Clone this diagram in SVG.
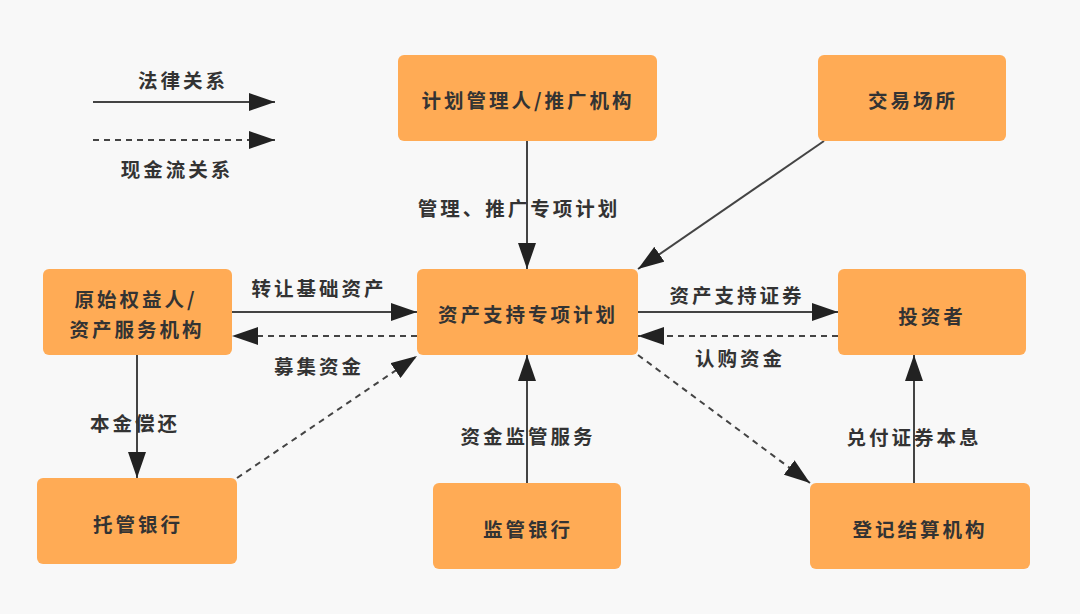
<svg xmlns="http://www.w3.org/2000/svg" width="1080" height="614" viewBox="0 0 1080 614">
<defs>
<style>
.box{fill:#FFAB55;}
.t{font-family:"Noto Sans CJK SC","Noto Sans CJK JP",sans-serif;font-size:19.5px;font-weight:bold;fill:#333;letter-spacing:3px;text-anchor:middle;dominant-baseline:central;}
.l{stroke:#444;stroke-width:2;fill:none;marker-end:url(#ah);}
.d{stroke-dasharray:6,5;}
</style>
<marker id="ah" markerUnits="userSpaceOnUse" markerWidth="28" markerHeight="18" refX="26" refY="9" orient="auto">
<path d="M0,0 L26,9 L0,18 Z" fill="#222"/>
</marker>
</defs>
<rect width="1080" height="614" fill="#F8F8F8"/>
<g id="legend">
<text class="t" x="183" y="79">法律关系</text>
<line class="l" x1="93" y1="102" x2="275" y2="102"/>
<line class="l d" x1="93" y1="140" x2="275" y2="140"/>
<text class="t" x="177" y="168">现金流关系</text>
</g>
<g id="connectors">
<line class="l" x1="527" y1="141" x2="527" y2="269"/>
<text class="t" x="519" y="207">管理、推广专项计划</text>
<line class="l" x1="824" y1="141" x2="638" y2="269"/>
<line class="l" x1="232" y1="312" x2="417" y2="312"/>
<text class="t" x="319" y="287">转让基础资产</text>
<line class="l d" x1="417" y1="336" x2="232" y2="336"/>
<text class="t" x="319" y="365">募集资金</text>
<line class="l" x1="638" y1="312" x2="838" y2="312"/>
<text class="t" x="737" y="294">资产支持证券</text>
<line class="l d" x1="838" y1="336" x2="638" y2="336"/>
<text class="t" x="740" y="357">认购资金</text>
<line class="l" x1="137" y1="355" x2="137" y2="478"/>
<text class="t" x="135" y="422">本金偿还</text>
<line class="l d" x1="237" y1="478" x2="417" y2="356"/>
<line class="l" x1="527" y1="483" x2="527" y2="355"/>
<text class="t" x="528" y="435">资金监管服务</text>
<line class="l d" x1="638" y1="355" x2="810" y2="483"/>
<line class="l" x1="914" y1="483" x2="914" y2="355"/>
<text class="t" x="914" y="436">兑付证券本息</text>
</g>
<g id="n_plan_mgr"><rect class="box" x="398" y="55" width="259" height="86" rx="6"/><text class="t" x="528" y="99">计划管理人/推广机构</text></g>
<g id="n_exchange"><rect class="box" x="818" y="55" width="188" height="86" rx="6"/><text class="t" x="913" y="99">交易场所</text></g>
<g id="n_originator"><rect class="box" x="43" y="269" width="189" height="86" rx="6"/><text class="t" x="136" y="298">原始权益人/</text><text class="t" x="137" y="328">资产服务机构</text></g>
<g id="n_spv"><rect class="box" x="417" y="269" width="221" height="86" rx="6"/><text class="t" x="528" y="313">资产支持专项计划</text></g>
<g id="n_investor"><rect class="box" x="838" y="269" width="188" height="86" rx="6"/><text class="t" x="932" y="315">投资者</text></g>
<g id="n_custodian"><rect class="box" x="37" y="478" width="200" height="86" rx="6"/><text class="t" x="138" y="523">托管银行</text></g>
<g id="n_supervisor"><rect class="box" x="433" y="483" width="188" height="86" rx="6"/><text class="t" x="528" y="528">监管银行</text></g>
<g id="n_registrar"><rect class="box" x="810" y="483" width="220" height="86" rx="6"/><text class="t" x="920" y="528">登记结算机构</text></g>
</svg>
